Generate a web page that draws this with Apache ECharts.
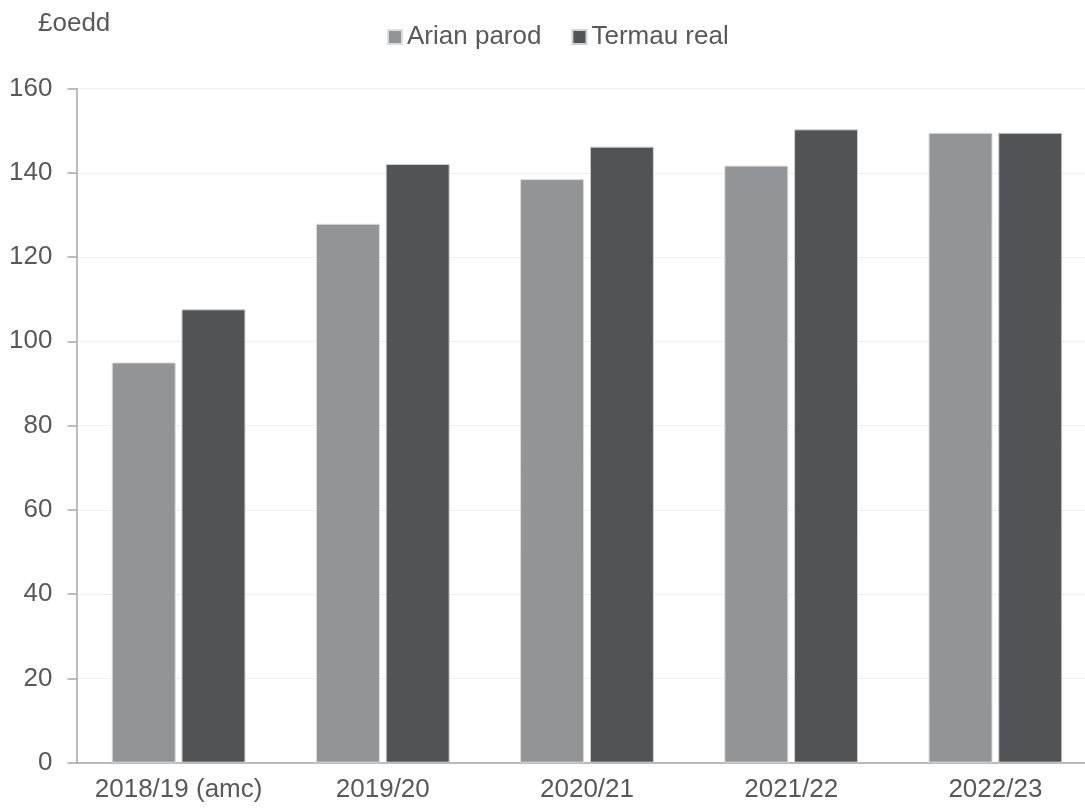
<!DOCTYPE html>
<html>
<head>
<meta charset="utf-8">
<script src="https://cdn.jsdelivr.net/npm/echarts@6/dist/echarts.min.js"></script>
<style>html,body{margin:0;padding:0;background:#fff;}#c{width:1085px;height:809px;}</style>
</head>
<body>
<div id="c"></div>
<script>
const categories = ['2018/19 (amc)', '2019/20', '2020/21', '2021/22', '2022/23'];
const seriesNames = ['Arian parod', 'Termau real'];
const arianParod = [95.0, 127.9, 138.5, 141.7, 149.5];
const termauReal = [107.6, 142.1, 146.2, 150.3, 149.5];
const yTicks = [0, 20, 40, 60, 80, 100, 120, 140, 160];
const unitLabel = '£oedd';

const FONT = '"Liberation Sans", Arial, sans-serif';
const TXT = '#595959';
const chart = echarts.init(document.getElementById('c'), null, {renderer: 'canvas'});
chart.setOption({
  animation: false,
  backgroundColor: '#ffffff',
  title: {
    text: unitLabel, left: 33, top: 6,
    textStyle: {fontFamily: FONT, fontSize: 26, fontWeight: 'normal', color: TXT}
  },
  legend: {
    data: seriesNames, left: 382, top: 19,
    itemWidth: 14, itemHeight: 14, itemGap: 30,
    icon: 'rect',
    textStyle: {fontFamily: FONT, fontSize: 26, color: TXT}
  },
  grid: {left: 76.5, top: 88.5, width: 1021, bottom: 46.3, containLabel: false, outerBoundsMode: 'none'},
  xAxis: {
    type: 'category', data: categories,
    axisLine: {lineStyle: {color: '#a6a6a6', width: 1.5}},
    axisTick: {show: false},
    axisLabel: {fontFamily: FONT, fontSize: 26, color: TXT, margin: 14, interval: 0, hideOverlap: false}
  },
  yAxis: {
    type: 'value', min: yTicks[0], max: yTicks[yTicks.length - 1], interval: 20,
    axisLine: {show: true, lineStyle: {color: '#a6a6a6', width: 1.5}},
    axisTick: {show: true, inside: false, length: 9, lineStyle: {color: '#a6a6a6', width: 1.5}},
    axisLabel: {fontFamily: FONT, fontSize: 26, color: TXT, margin: 24},
    splitLine: {show: true, lineStyle: {color: '#eeeeee', width: 1}}
  },
  series: [
    {name: seriesNames[0], type: 'bar', data: arianParod, barWidth: 64, barGap: '9%',
     itemStyle: {color: '#939495', borderColor: '#dcdcdc', borderWidth: 1}},
    {name: seriesNames[1], type: 'bar', data: termauReal, barWidth: 64,
     itemStyle: {color: '#525355', borderColor: '#d0d0d0', borderWidth: 1}}
  ]
});
</script>
</body>
</html>
